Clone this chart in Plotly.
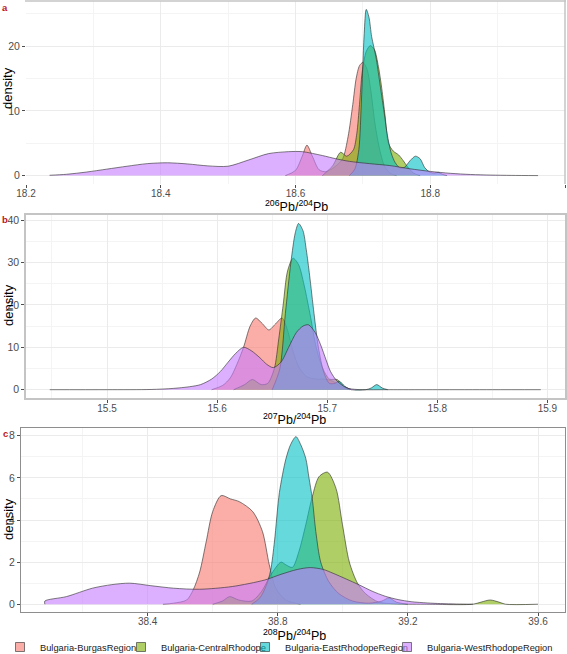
import plotly.graph_objects as go

W, H = 567, 654

groups = ["Bulgaria-BurgasRegion", "Bulgaria-CentralRhodope",
          "Bulgaria-EastRhodopeRegion", "Bulgaria-WestRhodopeRegion"]
colors = ["#F8766D", "#7CAE00", "#00BFC4", "#C77CFF"]

# ---------------- panel a : 206Pb/204Pb ----------------
burgas_a_x = [18.585, 18.600, 18.610, 18.617, 18.625, 18.635, 18.645, 18.660, 18.670, 18.678,
              18.685, 18.690, 18.695, 18.700, 18.706, 18.712, 18.718, 18.725, 18.732, 18.740, 18.750]
burgas_a_y = [0, 0.8, 3.0, 4.7, 3.0, 0.9, 0.6, 1.5, 2.6, 6.0,
              11.0, 15.0, 17.0, 17.5, 16.5, 13.0, 8.0, 4.0, 1.5, 0.4, 0]
central_a_x = [18.640, 18.655, 18.667, 18.676, 18.686, 18.691, 18.695, 18.699, 18.705, 18.711,
               18.717, 18.723, 18.728, 18.733, 18.738, 18.745, 18.753, 18.760, 18.766, 18.775, 18.785]
central_a_y = [0, 1.5, 3.6, 3.0, 4.0, 6.5, 11.0, 16.0, 19.2, 20.1,
               19.5, 16.9, 13.5, 9.2, 5.0, 3.8, 3.2, 2.3, 1.4, 0.4, 0]
east_a_x = [18.680, 18.688, 18.694, 18.698, 18.702, 18.705, 18.709, 18.713, 18.716, 18.720,
            18.723, 18.727, 18.731, 18.736, 18.742, 18.748, 18.755, 18.762, 18.770, 18.778,
            18.785, 18.792, 18.800, 18.806, 18.812, 18.818, 18.825]
east_a_y = [0, 1.0, 4.0, 12.0, 22.0, 25.7, 24.5, 21.5, 20.0, 18.0,
            15.9, 13.0, 10.2, 6.5, 3.5, 2.0, 1.2, 1.3, 2.3, 3.0,
            2.6, 1.2, 0.5, 0.4, 0.5, 0.2, 0]
west_a_x = [18.235, 18.26, 18.29, 18.32, 18.35, 18.38, 18.41, 18.44, 18.47, 18.50,
            18.53, 18.56, 18.59, 18.61, 18.64, 18.66, 18.68, 18.71, 18.74, 18.77,
            18.80, 18.83, 18.86, 18.89, 18.92, 18.96]
west_a_y = [0.05, 0.2, 0.55, 1.0, 1.45, 1.85, 1.98, 1.8, 1.5, 1.45,
            2.4, 3.4, 3.7, 3.7, 3.1, 2.6, 2.2, 1.85, 1.55, 1.05,
            0.65, 0.35, 0.17, 0.08, 0.03, 0]

# ---------------- panel b : 207Pb/204Pb ----------------
burgas_b_x = [15.595, 15.605, 15.612, 15.618, 15.624, 15.630, 15.635, 15.641, 15.647, 15.653,
              15.659, 15.664, 15.669, 15.675, 15.682, 15.690, 15.698, 15.705, 15.712, 15.720]
burgas_b_y = [0, 1.0, 2.8, 6.0, 10.0, 15.0, 16.9, 15.6, 14.1, 15.5,
              16.9, 14.0, 9.0, 5.0, 3.0, 2.5, 2.5, 2.0, 0.8, 0]
central_b_x = [15.615, 15.625, 15.632, 15.640, 15.646, 15.652, 15.656, 15.660, 15.664, 15.669,
               15.674, 15.679, 15.685, 15.690, 15.696, 15.702, 15.709, 15.715, 15.722]
central_b_y = [0, 1.2, 2.4, 1.2, 1.5, 5.0, 12.0, 20.0, 28.0, 31.0,
               29.5, 24.7, 17.0, 10.0, 5.0, 2.5, 2.4, 0.8, 0]
east_b_x = [15.650, 15.657, 15.662, 15.667, 15.671, 15.674, 15.678, 15.681, 15.684, 15.688,
            15.692, 15.697, 15.702, 15.707, 15.711, 15.716, 15.722, 15.735, 15.740, 15.745,
            15.750, 15.755]
east_b_y = [0, 5.0, 18.0, 30.0, 37.0, 39.2, 37.5, 33.0, 27.0, 18.0,
            10.0, 4.0, 1.5, 1.5, 2.0, 0.8, 0, 0, 0.4, 1.2,
            0.4, 0]
west_b_x = [15.448, 15.50, 15.54, 15.56, 15.575, 15.585, 15.595, 15.603, 15.610, 15.617,
            15.624, 15.631, 15.639, 15.645, 15.651, 15.658, 15.665, 15.672, 15.678, 15.683,
            15.689, 15.694, 15.699, 15.703, 15.709, 15.718, 15.727, 15.76, 15.80, 15.85, 15.894]
west_b_y = [0, 0, 0.05, 0.3, 0.7, 1.2, 2.5, 4.3, 6.5, 8.6,
            10.0, 9.2, 7.5, 6.0, 5.2, 6.5, 10.0, 13.5, 15.0, 15.3,
            13.5, 10.6, 7.0, 4.3, 2.0, 0.4, 0.05, 0, 0, 0, 0]

# ---------------- panel c : 208Pb/204Pb ----------------
burgas_c_x = [38.447, 38.48, 38.52, 38.54, 38.56, 38.58, 38.60, 38.626, 38.655, 38.682,
              38.723, 38.753, 38.774, 38.794, 38.825, 38.87]
burgas_c_y = [0, 0.05, 0.2, 0.68, 1.53, 2.97, 4.4, 5.16, 5.0, 4.87,
              4.4, 3.45, 1.87, 0.76, 0.2, 0]
central_c_x = [38.60, 38.63, 38.652, 38.68, 38.72, 38.75, 38.779, 38.81, 38.825, 38.845,
               38.865, 38.886, 38.906, 38.927, 38.953, 38.979, 38.999, 39.02, 39.045, 39.07,
               39.11, 39.16, 39.25, 39.40, 39.425, 39.453, 39.48, 39.50, 39.60]
central_c_y = [0, 0.15, 0.36, 0.2, 0.15, 0.6, 1.4, 2.0, 1.87, 1.75,
               2.5, 3.77, 5.1, 6.06, 6.27, 5.5, 3.77, 2.0, 1.0, 0.5,
               0.1, 0.02, 0, 0, 0.1, 0.2, 0.1, 0, 0]
east_c_x = [38.72, 38.745, 38.765, 38.778, 38.790, 38.805, 38.825, 38.840, 38.856, 38.870,
            38.886, 38.896, 38.906, 38.917, 38.932, 38.957, 38.988, 39.03, 39.08, 39.12,
            39.142, 39.165, 39.20]
east_c_y = [0, 0.3, 0.9, 1.6, 3.0, 5.3, 6.9, 7.6, 7.96, 7.6,
            6.93, 6.0, 5.03, 3.45, 2.0, 1.07, 0.5, 0.15, 0.05, 0.15,
            0.3, 0.1, 0]
west_c_x = [38.084, 38.084, 38.15, 38.23, 38.29, 38.345, 38.41, 38.48, 38.56, 38.66,
            38.76, 38.81, 38.86, 38.90, 38.94, 38.97, 39.01, 39.05, 39.09, 39.13,
            39.17, 39.21, 39.26, 39.30, 39.35, 39.40]
west_c_y = [0, 0.15, 0.36, 0.76, 0.93, 1.0, 0.88, 0.76, 0.71, 0.84,
            1.15, 1.42, 1.65, 1.74, 1.65, 1.47, 1.2, 0.92, 0.62, 0.38,
            0.22, 0.12, 0.06, 0.03, 0.01, 0]

panels = [
    ("a", [(burgas_a_x, burgas_a_y), (central_a_x, central_a_y), (east_a_x, east_a_y), (west_a_x, west_a_y)]),
    ("b", [(burgas_b_x, burgas_b_y), (central_b_x, central_b_y), (east_b_x, east_b_y), (west_b_x, west_b_y)]),
    ("c", [(burgas_c_x, burgas_c_y), (central_c_x, central_c_y), (east_c_x, east_c_y), (west_c_x, west_c_y)]),
]

x_titles = ["<sup>206</sup>Pb/<sup>204</sup>Pb", "<sup>207</sup>Pb/<sup>204</sup>Pb",
            "<sup>208</sup>Pb/<sup>204</sup>Pb"]


def rgba(hexc, a):
    h = hexc.lstrip("#")
    return "rgba(%d,%d,%d,%.2f)" % (int(h[0:2], 16), int(h[2:4], 16), int(h[4:6], 16), a)


def px_x(p):
    return p / W


def px_y(p):
    return 1 - p / H


fig = go.Figure()
axis_ids = ["", "2", "3"]
for pi, (lab, series) in enumerate(panels):
    for gi, (xs, ys) in enumerate(series):
        fig.add_trace(go.Scatter(
            x=xs, y=ys, mode="lines", fill="tozeroy",
            fillcolor=rgba(colors[gi], 0.6),
            line=dict(color="rgba(40,40,40,0.85)", width=0.7, shape="spline", smoothing=0.8),
            xaxis="x" + axis_ids[pi], yaxis="y" + axis_ids[pi],
            showlegend=False, hoverinfo="skip"))

# legend entries: one legend per entry so each can be placed like the reference
legend_names = ["legend", "legend2", "legend3", "legend4"]
for gi, g in enumerate(groups):
    fig.add_trace(go.Scatter(
        x=[None], y=[None], mode="markers", name=g, legend=legend_names[gi],
        marker=dict(symbol="square", size=9, color=rgba(colors[gi], 0.6),
                    line=dict(color="rgba(40,40,40,0.85)", width=0.7)),
        xaxis="x3", yaxis="y3"))

font = "Liberation Sans, Arial, sans-serif"
grid_major = "#EBEBEB"
grid_minor = "#F4F4F4"

domains_x = [(26, 565), (26, 565), (21, 565)]
domains_y = [(1, 184), (215, 398), (428, 612)]
x_ranges = [[18.2, 19.0], [15.4264, 15.916], [38.0107, 39.683]]
y_ranges = [[-1.3, 27.0], [-1.96, 41.2], [-0.37, 8.37]]
x_tick0 = [18.2, 15.5, 38.4]
x_dtick = [0.2, 0.1, 0.4]
y_dtick = [10, 10, 2]
border = [None, "#C4C4C4", "#8E8E8E"]

layout = dict(
    width=W, height=H, margin=dict(l=0, r=0, t=0, b=0, autoexpand=False),
    paper_bgcolor="white", plot_bgcolor="white",
    font=dict(family=font, size=11, color="#1A1A1A"),
)
legend_text_x = [38, 159, 283, 425]
for li, ln in enumerate(legend_names):
    layout[ln] = dict(orientation="h", x=px_x(legend_text_x[li] - 38), xanchor="left",
                      y=px_y(647), yanchor="middle", itemwidth=30,
                      font=dict(size=9.3, color="#1A1A1A", family=font),
                      bgcolor="rgba(0,0,0,0)", borderwidth=0)

for pi in range(3):
    xa = dict(
        domain=[px_x(domains_x[pi][0]), px_x(domains_x[pi][1])],
        range=x_ranges[pi], tick0=x_tick0[pi], dtick=x_dtick[pi],
        showgrid=True, gridcolor=grid_major, gridwidth=1, zeroline=False,
        ticks="outside", ticklen=3, tickcolor="#4D4D4D", tickwidth=0.8,
        ticklabelstandoff=-3,
        tickfont=dict(size=10, color="#4D4D4D", family=font),
        minor=dict(dtick=x_dtick[pi] / 2, showgrid=True, gridcolor=grid_minor, gridwidth=0.6, ticks=""),
        anchor="y" + axis_ids[pi], fixedrange=True, automargin=False,
    )
    ya = dict(
        domain=[px_y(domains_y[pi][1]), px_y(domains_y[pi][0])],
        range=y_ranges[pi], tick0=0, dtick=y_dtick[pi],
        showgrid=True, gridcolor=grid_major, gridwidth=1, zeroline=False,
        ticks="outside", ticklen=3, tickcolor="#4D4D4D", tickwidth=0.8,
        tickfont=dict(size=10.5, color="#4D4D4D", family=font),
        minor=dict(dtick=y_dtick[pi] / 2, showgrid=True, gridcolor=grid_minor, gridwidth=0.6, ticks=""),
        anchor="x" + axis_ids[pi], fixedrange=True, automargin=False,
    )
    if border[pi]:
        for ax in (xa, ya):
            ax.update(showline=True, mirror=True, linecolor=border[pi],
                      linewidth=1.6 if pi == 1 else 1)
    layout["xaxis" + axis_ids[pi]] = xa
    layout["yaxis" + axis_ids[pi]] = ya

fig.update_layout(**layout)

# panel a partial frame (top + right)
fig.add_shape(type="line", xref="paper", yref="paper",
              x0=px_x(25), x1=px_x(566), y0=px_y(1), y1=px_y(1),
              line=dict(color="#C4C4C4", width=1.5))
fig.add_shape(type="line", xref="paper", yref="paper",
              x0=px_x(565), x1=px_x(565), y0=px_y(0), y1=px_y(184),
              line=dict(color="#C4C4C4", width=1.5))

# text annotations
title_y = [206, 419, 635]
title_x = [296, 294, 294]
ylab_y = [88, 305, 519]
panel_lab_y = [7, 219, 433]
for pi in range(3):
    fig.add_annotation(text=x_titles[pi], xref="paper", yref="paper",
                       x=px_x(title_x[pi]), y=px_y(title_y[pi]), showarrow=False,
                       xanchor="center", yanchor="middle",
                       font=dict(size=12.5, color="black", family=font))
    fig.add_annotation(text="density", xref="paper", yref="paper", textangle=-90,
                       x=px_x(8), y=px_y(ylab_y[pi]), showarrow=False,
                       xanchor="center", yanchor="middle",
                       font=dict(size=13, color="black", family=font))
    fig.add_annotation(text="<b>%s</b>" % panels[pi][0], xref="paper", yref="paper",
                       x=px_x(5), y=px_y(panel_lab_y[pi]), showarrow=False,
                       xanchor="center", yanchor="middle",
                       font=dict(size=9.5, color="#C0141C", family=font))

fig.write_html("out.html", config={"displayModeBar": False},
               post_script="document.body.style.margin='0';document.body.style.padding='0';")
